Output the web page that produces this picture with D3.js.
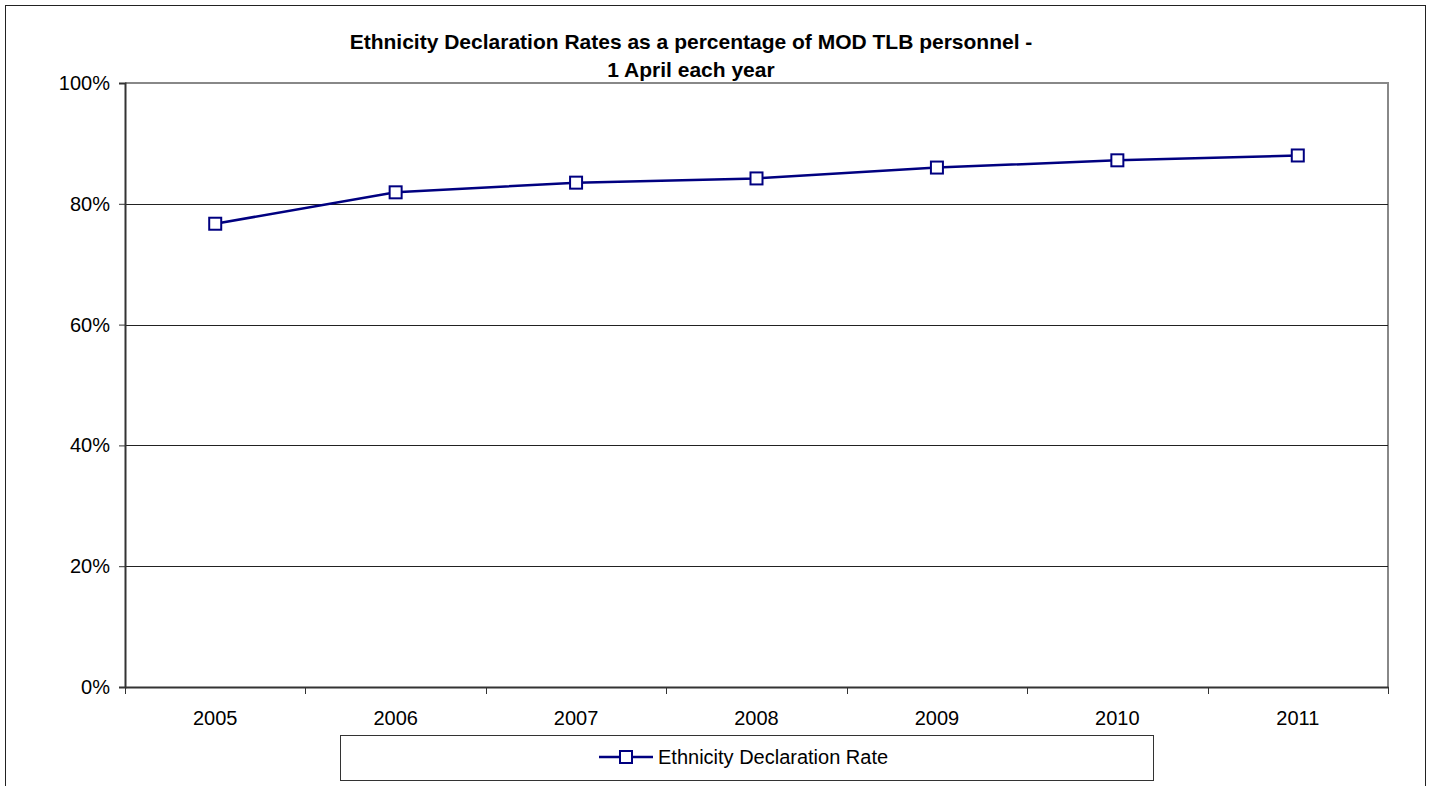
<!DOCTYPE html>
<html>
<head>
<meta charset="utf-8">
<script src="https://cdn.jsdelivr.net/npm/d3@7"></script>
<style>
  html, body { margin: 0; padding: 0; background: #fff; }
  svg { display: block; font-family: "Liberation Sans", Arial, sans-serif; }
</style>
</head>
<body>
<svg id="chart" width="1429" height="786"></svg>
<script>
// Ethnicity declaration rate, 1 April each year
const years = ["2005", "2006", "2007", "2008", "2009", "2010", "2011"];
const rates = [0.767, 0.819, 0.835, 0.842, 0.860, 0.872, 0.880];
const yTicks = [0, 0.2, 0.4, 0.6, 0.8, 1.0];
const titleLines = ["Ethnicity Declaration Rates as a percentage of MOD TLB personnel -", "1 April each year"];
const seriesName = "Ethnicity Declaration Rate";

const navy = "#000080";
const svg = d3.select("#chart");

// outer chart frame
svg.append("rect")
  .attr("x", 5.5).attr("y", 5.5)
  .attr("width", 1420).attr("height", 800)
  .attr("fill", "#fff").attr("stroke", "#222").attr("stroke-width", 1);

const plot = { left: 125, top: 83, right: 1388, bottom: 687 };

const x = d3.scaleBand().domain(years).range([plot.left, plot.right]);
const y = d3.scaleLinear().domain([0, 1]).range([plot.bottom, plot.top]);

// plot frame (top and right edges in grey)
svg.append("path")
  .attr("d", `M${plot.left},${plot.top}H${plot.right}V${plot.bottom}`)
  .attr("fill", "none").attr("stroke", "#888").attr("stroke-width", 2);

// horizontal gridlines
svg.append("g")
  .selectAll("line")
  .data(yTicks.filter(t => t > 0 && t < 1))
  .join("line")
  .attr("x1", plot.left).attr("x2", plot.right)
  .attr("y1", d => Math.round(y(d)) + 0.5).attr("y2", d => Math.round(y(d)) + 0.5)
  .attr("stroke", "#222").attr("stroke-width", 1);

// y axis
const yAxis = svg.append("g")
  .attr("transform", `translate(${plot.left},0)`)
  .call(d3.axisLeft(y).tickValues(yTicks).tickFormat(d3.format(".0%")).tickSize(6).tickPadding(9));
yAxis.select(".domain").attr("stroke", "#333").attr("stroke-width", 2);
yAxis.selectAll(".tick line").attr("stroke", "#333");
yAxis.selectAll("text").attr("font-size", 20).attr("fill", "#000")
  .attr("font-family", "Liberation Sans, Arial, sans-serif");

// x axis: labels centred in each category, ticks on category boundaries
const xAxis = svg.append("g")
  .attr("transform", `translate(0,${plot.bottom})`)
  .call(d3.axisBottom(x).tickSize(0).tickPadding(24));
xAxis.select(".domain").attr("stroke", "#333").attr("stroke-width", 2);
xAxis.selectAll("text").attr("font-size", 20).attr("fill", "#000")
  .attr("font-family", "Liberation Sans, Arial, sans-serif");
const bounds = years.map(d => x(d)).concat([x(years[years.length - 1]) + x.bandwidth()]);
xAxis.append("g").selectAll("line")
  .data(bounds)
  .join("line")
  .attr("x1", d => Math.round(d) + 0.5).attr("x2", d => Math.round(d) + 0.5)
  .attr("y1", 0).attr("y2", 7)
  .attr("stroke", "#333");

// series line
const cx = (d, i) => x(years[i]) + x.bandwidth() / 2;
svg.append("path")
  .datum(rates)
  .attr("d", d3.line().x(cx).y(d => y(d)))
  .attr("fill", "none").attr("stroke", navy).attr("stroke-width", 2.5);

// square markers
const m = 12;
svg.append("g").selectAll("rect")
  .data(rates)
  .join("rect")
  .attr("x", (d, i) => cx(d, i) - m / 2)
  .attr("y", d => y(d) - m / 2)
  .attr("width", m).attr("height", m)
  .attr("fill", "#fff").attr("stroke", navy).attr("stroke-width", 2);

// title
svg.append("text")
  .attr("x", 691).attr("text-anchor", "middle")
  .attr("font-size", 21).attr("font-weight", "bold").attr("fill", "#000")
  .selectAll("tspan")
  .data(titleLines)
  .join("tspan")
  .attr("x", 691)
  .attr("y", (d, i) => 49 + i * 28)
  .text(d => d);

// legend
const lg = svg.append("g");
lg.append("rect")
  .attr("x", 340.5).attr("y", 735.5).attr("width", 813).attr("height", 45)
  .attr("fill", "#fff").attr("stroke", "#333").attr("stroke-width", 1);
lg.append("line")
  .attr("x1", 599).attr("x2", 653).attr("y1", 757).attr("y2", 757)
  .attr("stroke", navy).attr("stroke-width", 2.5);
lg.append("rect")
  .attr("x", 626 - m / 2).attr("y", 757 - m / 2).attr("width", m).attr("height", m)
  .attr("fill", "#fff").attr("stroke", navy).attr("stroke-width", 2);
lg.append("text")
  .attr("x", 658).attr("y", 764)
  .attr("font-size", 20).attr("fill", "#000")
  .text(seriesName);
</script>
</body>
</html>
